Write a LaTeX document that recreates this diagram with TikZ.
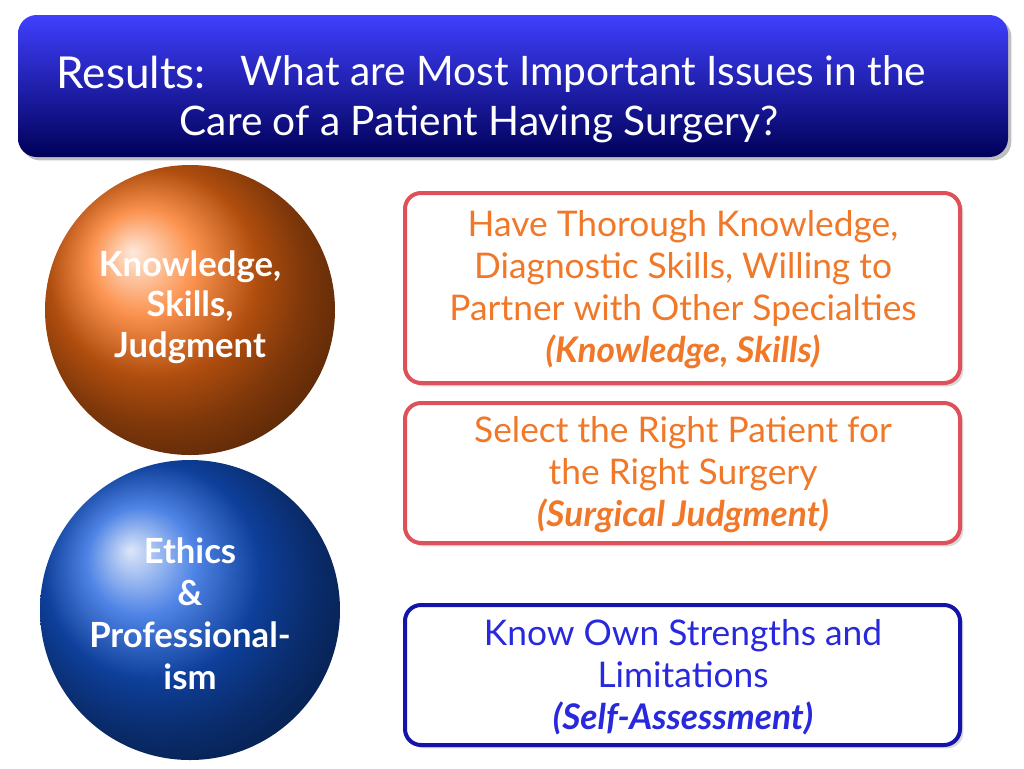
\documentclass[tikz,border=0pt]{standalone}
\usepackage{fontspec}
\setmainfont{Lato}
\setsansfont{Carlito}
\usetikzlibrary{positioning,shadows}
\definecolor{boxred}{RGB}{222,80,90}
\definecolor{txtorange}{RGB}{240,120,40}
\definecolor{boxblue}{RGB}{20,20,170}
\definecolor{txtblue}{RGB}{40,40,220}
\definecolor{ballorange}{RGB}{250,110,20}
\definecolor{ballblue}{RGB}{20,90,220}
\tikzset{
  infobox/.style={draw=boxred,line width=3pt,fill=white,rounded corners=12pt,drop shadow={opacity=0.3}},
  bluebox/.style={infobox,draw=boxblue},
  infotext/.style={align=center,font=\fontsize{26.5}{31.5}\selectfont}
}
\begin{document}
\begin{tikzpicture}[x=0.75pt,y=-0.75pt]
\useasboundingbox (0,0) rectangle (1024,768);
% title bar
\shade[top color=blue!75!white,bottom color=blue!35!black,rounded corners=14pt,drop shadow]
  (18,15) rectangle (1008,157);
\node[anchor=west,text=white,font=\fontsize{33}{36}\selectfont] (res) at (52,72) {Results:};
\node[anchor=west,text=white,font=\fontsize{30.5}{36}\selectfont] (ttl) at (236,74) {What are Most Important Issues in the};
\node[anchor=west,text=white,font=\fontsize{30.5}{36}\selectfont] (ttl2) at (175,124) {Care of a Patient Having Surgery?};
% spheres
\shade[ball color=ballorange] (190,310) circle (145);
\shade[ball color=ballblue] (190,610) circle (150);
\node[text=white,align=center,font=\bfseries\fontsize{26}{30.5}\selectfont] (kn) at (190,307) {Knowledge,\\Skills,\\Judgment};
\node[text=white,align=center,font=\bfseries\fontsize{26}{31.5}\selectfont] (eth) at (190,614) {Ethics\\\&\\Professional-\\ism};
% boxes
\draw[infobox] (405,193) rectangle (960,383);
\node[infotext,text=txtorange] (b1) at (683,290) {Have Thorough Knowledge,\\Diagnostic Skills, Willing to\\Partner with Other Specialties\\{\bfseries\itshape (Knowledge, Skills)}};
\draw[infobox] (405,403) rectangle (960,543);
\node[infotext,text=txtorange] (b2) at (683,475) {Select the Right Patient for\\the Right Surgery\\{\bfseries\itshape (Surgical Judgment)}};
\draw[bluebox] (405,605) rectangle (960,745);
\node[infotext,text=txtblue] (b3) at (683,677) {Know Own Strengths and\\Limitations\\{\bfseries\itshape (Self-Assessment)}};
\end{tikzpicture}
\end{document}
